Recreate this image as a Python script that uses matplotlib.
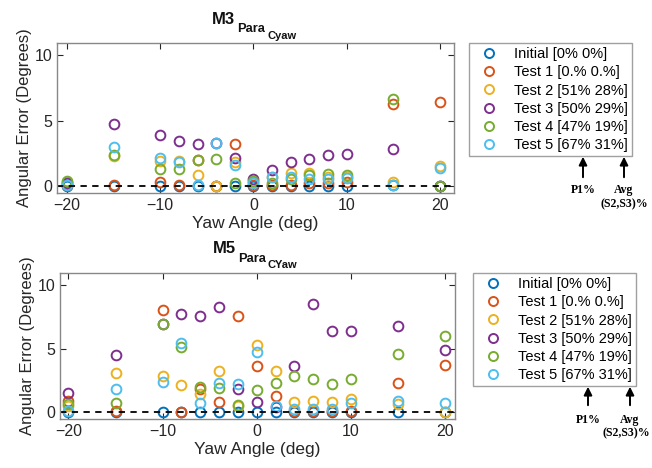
import matplotlib
matplotlib.use("Agg")
import matplotlib.pyplot as plt
from matplotlib.lines import Line2D
from matplotlib.patches import FancyArrowPatch

plt.rcParams["font.family"] = ["Liberation Sans", "DejaVu Sans"]

yaw = [-20, -15, -10, -8, -6, -4, -2, 0, 2, 4, 6, 8, 10, 15, 20]

labels = ["Initial [0% 0%]", "Test 1 [0.% 0.%]", "Test 2 [51% 28%]",
          "Test 3 [50% 29%]", "Test 4 [47% 19%]", "Test 5 [67% 31%]"]
colors = ["#0072BD", "#D95319", "#EDB120", "#7E2F8E", "#77AC30", "#4DBEEE"]

# M3 Para_Cyaw
m3_initial = [0, 0, 0, 0, 0, 0, 0, 0, 0, 0, 0, 0, 0, 0.05, 0]
m3_test1 = [0.1, 0.1, 0.3, 0.05, 1.95, 0.0, 3.2, 0.1, 0.1, 0.1, 0.2, 0.2, 0.3, 6.25, 6.4]
m3_test2 = [0.3, 2.3, 1.9, 1.9, 0.8, 0.0, 1.8, 0.3, 0.7, 1.0, 1.0, 0.7, 0.7, 0.3, 1.5]
m3_test3 = [0.2, 4.75, 3.9, 3.45, 3.2, 3.25, 2.1, 0.55, 1.2, 1.85, 2.05, 2.35, 2.45, 2.85, 0.0]
m3_test4 = [0.35, 2.35, 1.3, 1.3, 2.0, 2.05, 0.2, 0.35, 0.2, 0.5, 0.8, 0.9, 0.8, 6.65, 0.0]
m3_test5 = [0.1, 2.95, 2.1, 1.8, 0.05, 3.3, 1.6, 0.2, 0.7, 0.7, 0.5, 0.5, 0.6, 0.1, 1.35]

# M5 Para_CYaw
m5_initial = [0, 0, 0, 0, 0, 0, 0, 0, 0, 0, 0, 0, 0, 0, 0]
m5_test1 = [0.9, 0.05, 8.0, 0.0, 1.8, 0.75, 7.6, 3.6, 1.25, 0.1, 0.1, 0.1, 0.1, 2.3, 3.7]
m5_test2 = [0.5, 3.1, 2.8, 2.1, 1.4, 3.2, 0.5, 5.3, 3.2, 0.75, 0.85, 0.8, 1.0, 0.6, 0.0]
m5_test3 = [1.5, 4.5, 6.9, 7.7, 7.6, 8.3, 1.8, 0.8, 0.4, 3.6, 8.5, 6.35, 6.35, 6.8, 4.85]
m5_test4 = [0.6, 0.7, 6.9, 5.1, 1.95, 1.9, 0.55, 1.75, 2.3, 2.8, 2.6, 2.2, 2.6, 4.6, 5.95]
m5_test5 = [0.1, 1.8, 2.4, 5.4, 0.7, 2.3, 2.2, 4.7, 0.5, 0.2, 0.2, 0.2, 0.7, 0.9, 0.7]

m3_series = [m3_initial, m3_test1, m3_test2, m3_test3, m3_test4, m3_test5]
m5_series = [m5_initial, m5_test1, m5_test2, m5_test3, m5_test4, m5_test5]

W, H = 652, 468
fig = plt.figure(figsize=(W / 100, H / 100), dpi=100)


def px_axes(l, t, r, b):
    return fig.add_axes([l / W, 1 - b / H, (r - l) / W, (b - t) / H])


def ftext(x, y, s, **kw):
    # x, y in pixels from the top-left corner
    return fig.text(x / W, 1 - y / H, s, **kw)


def draw(ax, series, xlim):
    for vals, c in zip(series, colors):
        ax.plot(yaw, vals, ls="none", marker="o", ms=7, mfc="none",
                mec=c, mew=1.4)
    ax.axhline(0, color="k", ls="--", lw=1.3, dashes=(3.5, 3))
    ax.set_xlim(*xlim)
    ax.set_ylim(-0.55, 10.95)
    ax.set_xticks([-20, -10, 0, 10, 20])
    ax.set_yticks([0, 5, 10])
    ax.tick_params(direction="in", top=True, right=True, labelsize=11.5,
                   colors="#262626", length=4, width=0.8)
    for s in ax.spines.values():
        s.set_color("#888888")
        s.set_linewidth(1.0)
    ax.set_xlabel("Yaw Angle (deg)", fontsize=12.5, color="#262626", labelpad=2)
    ax.set_ylabel("Angular Error (Degrees)", fontsize=12, color="#262626", labelpad=2)


ax1 = px_axes(57, 43, 454, 193)
draw(ax1, m3_series, (-21.07, 21.5))

ax2 = px_axes(60, 273, 455, 419)
draw(ax2, m5_series, (-20.9, 21.06))

# titles with nested subscripts
for parts in ([(211.5, 24, "M3", 12), (237, 32, "Para", 9.3), (267, 39, "Cyaw", 8)],
              [(213, 253, "M5", 12), (238.5, 261.5, "Para", 9.3), (268, 267.5, "CYaw", 8)]):
    for x, y, s, fs in parts:
        ftext(x, y, s, ha="left", va="baseline", weight="bold", fontsize=fs,
              color="#111111")

handles = [Line2D([], [], ls="none", marker="o", ms=6.5, mfc="none", mec=c, mew=1.4)
           for c in colors]

for (lx, ty), (a1, a2, ay0, ay1, ty1, ty2) in zip(
        [(469, 43), (473, 273)],
        [(583, 624, 180, 154, 190, 204), (588, 630, 408, 384, 420, 433)]):
    leg = fig.legend(handles, labels, loc="upper left",
                     bbox_to_anchor=(lx / W, 1 - ty / H), bbox_transform=fig.transFigure,
                     fontsize=10.5, frameon=True, fancybox=False, edgecolor="#888888",
                     borderaxespad=0, labelspacing=0.28, handlelength=2.2,
                     handletextpad=0.6, borderpad=0.3)
    leg.get_frame().set_linewidth(1.0)
    for ax_x in (a1, a2):
        fig.add_artist(FancyArrowPatch(
            (ax_x / W, 1 - ay0 / H), (ax_x / W, 1 - ay1 / H),
            transform=fig.transFigure, arrowstyle="-|>", mutation_scale=12,
            color="k", lw=1.4))
    ftext(a1, ty1, "P1%", ha="center", va="center",
          family="Liberation Serif", weight="bold", fontsize=8.5)
    ftext(a2, ty1, "Avg", ha="center", va="center",
          family="Liberation Serif", weight="bold", fontsize=8.5)
    ftext(min(a2, W - 26), ty2, "(S2,S3)%", ha="center", va="center",
          family="Liberation Serif", weight="bold", fontsize=8.5)

fig.savefig("out.png", dpi=100)
